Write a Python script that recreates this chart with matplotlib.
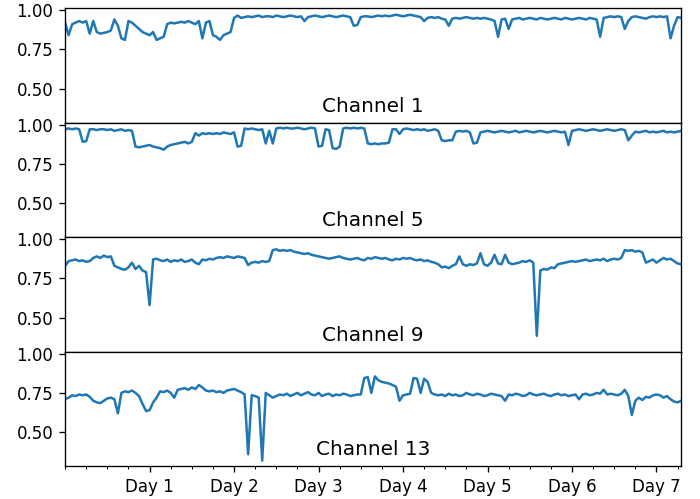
import numpy as np
import matplotlib
matplotlib.use("Agg")
import matplotlib.pyplot as plt
from matplotlib.ticker import MultipleLocator

# hourly readings, hour 0 .. 175
channel_1 = [
    0.92, 0.84, 0.91, 0.92, 0.93, 0.92, 0.93, 0.85, 0.93, 0.86, 0.85, 0.855,
    0.86, 0.87, 0.94, 0.90, 0.82, 0.81, 0.93, 0.92, 0.90, 0.88, 0.86, 0.85,
    0.84, 0.86, 0.81, 0.82, 0.83, 0.91, 0.92, 0.915, 0.92, 0.925, 0.92, 0.93,
    0.92, 0.91, 0.93, 0.82, 0.92, 0.93, 0.84, 0.83, 0.81, 0.84, 0.85, 0.86,
    0.95, 0.965, 0.95, 0.955, 0.96, 0.955, 0.96, 0.965, 0.955, 0.96, 0.96, 0.955,
    0.965, 0.96, 0.955, 0.96, 0.965, 0.96, 0.955, 0.96, 0.93, 0.955, 0.96, 0.965,
    0.96, 0.955, 0.96, 0.965, 0.96, 0.955, 0.96, 0.965, 0.96, 0.955, 0.90, 0.905,
    0.955, 0.96, 0.96, 0.955, 0.96, 0.965, 0.96, 0.965, 0.96, 0.965, 0.97, 0.965,
    0.96, 0.965, 0.97, 0.965, 0.96, 0.955, 0.93, 0.95, 0.955, 0.95, 0.955, 0.945,
    0.94, 0.90, 0.945, 0.95, 0.945, 0.95, 0.955, 0.95, 0.945, 0.95, 0.945, 0.95,
    0.945, 0.94, 0.93, 0.83, 0.94, 0.945, 0.88, 0.94, 0.945, 0.95, 0.94, 0.945,
    0.95, 0.945, 0.94, 0.95, 0.945, 0.94, 0.945, 0.95, 0.945, 0.94, 0.95, 0.945,
    0.94, 0.945, 0.95, 0.945, 0.94, 0.95, 0.945, 0.94, 0.83, 0.95, 0.955, 0.96,
    0.955, 0.96, 0.955, 0.88, 0.93, 0.955, 0.96, 0.955, 0.95, 0.945, 0.955, 0.96,
    0.955, 0.96, 0.955, 0.96, 0.82, 0.90, 0.955, 0.95,
]

channel_5 = [
    0.97, 0.975, 0.97, 0.975, 0.97, 0.89, 0.895, 0.97, 0.97, 0.965, 0.97, 0.97,
    0.965, 0.97, 0.96, 0.965, 0.97, 0.96, 0.965, 0.96, 0.86, 0.855, 0.86, 0.865,
    0.87, 0.86, 0.855, 0.85, 0.84, 0.86, 0.87, 0.875, 0.88, 0.885, 0.89, 0.88,
    0.89, 0.945, 0.93, 0.945, 0.94, 0.945, 0.94, 0.945, 0.94, 0.95, 0.945, 0.94,
    0.95, 0.86, 0.865, 0.975, 0.97, 0.975, 0.97, 0.965, 0.97, 0.88, 0.96, 0.88,
    0.975, 0.98, 0.975, 0.98, 0.975, 0.975, 0.98, 0.975, 0.97, 0.975, 0.98, 0.975,
    0.86, 0.865, 0.97, 0.965, 0.85, 0.845, 0.86, 0.975, 0.98, 0.975, 0.98, 0.975,
    0.98, 0.975, 0.88, 0.875, 0.88, 0.875, 0.88, 0.88, 0.885, 0.97, 0.97, 0.94,
    0.97, 0.975, 0.97, 0.965, 0.97, 0.965, 0.97, 0.96, 0.965, 0.97, 0.96, 0.90,
    0.895, 0.90, 0.90, 0.955, 0.96, 0.955, 0.96, 0.95, 0.88, 0.885, 0.95, 0.955,
    0.96, 0.955, 0.95, 0.955, 0.96, 0.955, 0.95, 0.955, 0.96, 0.95, 0.955, 0.96,
    0.955, 0.95, 0.955, 0.96, 0.955, 0.95, 0.955, 0.96, 0.955, 0.95, 0.955, 0.87,
    0.96, 0.965, 0.97, 0.965, 0.96, 0.965, 0.97, 0.965, 0.96, 0.965, 0.97, 0.965,
    0.96, 0.965, 0.97, 0.965, 0.90, 0.93, 0.955, 0.95, 0.955, 0.96, 0.95, 0.955,
    0.95, 0.955, 0.96, 0.95, 0.955, 0.95, 0.955, 0.96,
]

channel_9 = [
    0.83, 0.86, 0.865, 0.87, 0.86, 0.865, 0.855, 0.86, 0.88, 0.89, 0.88, 0.895,
    0.885, 0.89, 0.83, 0.82, 0.81, 0.805, 0.82, 0.85, 0.81, 0.83, 0.80, 0.79,
    0.58, 0.87, 0.875, 0.865, 0.86, 0.87, 0.855, 0.865, 0.86, 0.87, 0.855, 0.86,
    0.87, 0.85, 0.84, 0.87, 0.865, 0.875, 0.87, 0.88, 0.885, 0.88, 0.89, 0.885,
    0.88, 0.89, 0.885, 0.88, 0.835, 0.85, 0.855, 0.85, 0.86, 0.855, 0.86, 0.93,
    0.935, 0.925, 0.93, 0.925, 0.93, 0.92, 0.915, 0.91, 0.905, 0.91, 0.90, 0.895,
    0.89, 0.885, 0.88, 0.875, 0.88, 0.885, 0.89, 0.88, 0.875, 0.87, 0.875, 0.88,
    0.87, 0.865, 0.88, 0.875, 0.885, 0.88, 0.875, 0.88, 0.87, 0.865, 0.875, 0.87,
    0.88, 0.875, 0.88, 0.87, 0.865, 0.87, 0.86, 0.865, 0.855, 0.85, 0.84, 0.82,
    0.825, 0.815, 0.83, 0.84, 0.89, 0.84, 0.83, 0.84, 0.835, 0.845, 0.91, 0.84,
    0.83, 0.85, 0.90, 0.845, 0.84, 0.90, 0.85, 0.84, 0.845, 0.85, 0.86, 0.855,
    0.865, 0.85, 0.385, 0.80, 0.81, 0.805, 0.82, 0.815, 0.84, 0.845, 0.85, 0.855,
    0.86, 0.855, 0.86, 0.865, 0.87, 0.86, 0.865, 0.87, 0.865, 0.875, 0.86, 0.87,
    0.875, 0.87, 0.88, 0.93, 0.925, 0.93, 0.92, 0.925, 0.915, 0.85, 0.86, 0.87,
    0.85, 0.865, 0.88, 0.87, 0.875, 0.86, 0.845, 0.84,
]

channel_13 = [
    0.71, 0.72, 0.735, 0.73, 0.74, 0.735, 0.74, 0.725, 0.70, 0.69, 0.685, 0.70,
    0.715, 0.72, 0.71, 0.62, 0.75, 0.76, 0.755, 0.765, 0.75, 0.73, 0.68, 0.635,
    0.64, 0.69, 0.72, 0.76, 0.755, 0.765, 0.75, 0.72, 0.77, 0.775, 0.78, 0.77,
    0.785, 0.775, 0.80, 0.785, 0.765, 0.76, 0.765, 0.755, 0.76, 0.75, 0.765, 0.77,
    0.775, 0.765, 0.755, 0.74, 0.36, 0.735, 0.73, 0.72, 0.32, 0.75, 0.735, 0.72,
    0.73, 0.74, 0.735, 0.745, 0.73, 0.74, 0.75, 0.735, 0.745, 0.755, 0.74, 0.735,
    0.75, 0.73, 0.74, 0.745, 0.73, 0.74, 0.735, 0.745, 0.74, 0.73, 0.735, 0.74,
    0.74, 0.845, 0.85, 0.75, 0.855, 0.83, 0.82, 0.815, 0.81, 0.80, 0.79, 0.70,
    0.735, 0.74, 0.745, 0.845, 0.84, 0.75, 0.84, 0.82, 0.75, 0.74, 0.735, 0.74,
    0.73, 0.745, 0.735, 0.74, 0.73, 0.735, 0.75, 0.74, 0.735, 0.745, 0.74, 0.73,
    0.735, 0.745, 0.74, 0.735, 0.73, 0.70, 0.74, 0.735, 0.745, 0.74, 0.73, 0.735,
    0.75, 0.74, 0.735, 0.74, 0.745, 0.735, 0.73, 0.74, 0.745, 0.735, 0.74, 0.73,
    0.735, 0.74, 0.71, 0.74, 0.745, 0.735, 0.74, 0.75, 0.745, 0.77, 0.74, 0.745,
    0.74, 0.735, 0.745, 0.77, 0.73, 0.61, 0.70, 0.72, 0.705, 0.725, 0.72, 0.735,
    0.74, 0.735, 0.72, 0.73, 0.71, 0.695, 0.69, 0.70,
]

channel_names = ["Channel 1", "Channel 5", "Channel 9", "Channel 13"]
day_labels = ["Day 1", "Day 2", "Day 3", "Day 4", "Day 5", "Day 6", "Day 7"]

series = [channel_1, channel_5, channel_9, channel_13]
hours = np.arange(len(channel_1))
for s in series:
    assert len(s) == len(hours), len(s)

fig, axes = plt.subplots(4, 1, sharex=True, sharey=True,
                         figsize=(700 / 120, 499 / 120), dpi=120)
fig.subplots_adjust(left=0.093, right=0.973, top=0.984, bottom=0.066, hspace=0)

for ax, vals, name in zip(axes, series, channel_names):
    ax.plot(hours, vals, color="tab:blue", lw=1.5)
    ax.text(0.5, 0.095, name, transform=ax.transAxes, ha="center",
            va="baseline", fontsize=12)
    ax.set_yticks([0.5, 0.75, 1.0])
    ax.set_yticklabels(["0.50", "0.75", "1.00"])
    ax.tick_params(axis="x", which="both", bottom=False)

ax = axes[-1]
ax.set_xlim(hours[0], hours[-1])
ax.set_ylim(0.285, 1.013)
ax.set_xticks(np.arange(1, 8) * 24)
ax.set_xticklabels(day_labels)
ax.xaxis.set_minor_locator(MultipleLocator(6))
ax.tick_params(axis="x", which="both", bottom=True)

fig.savefig("out.png", dpi=120)
